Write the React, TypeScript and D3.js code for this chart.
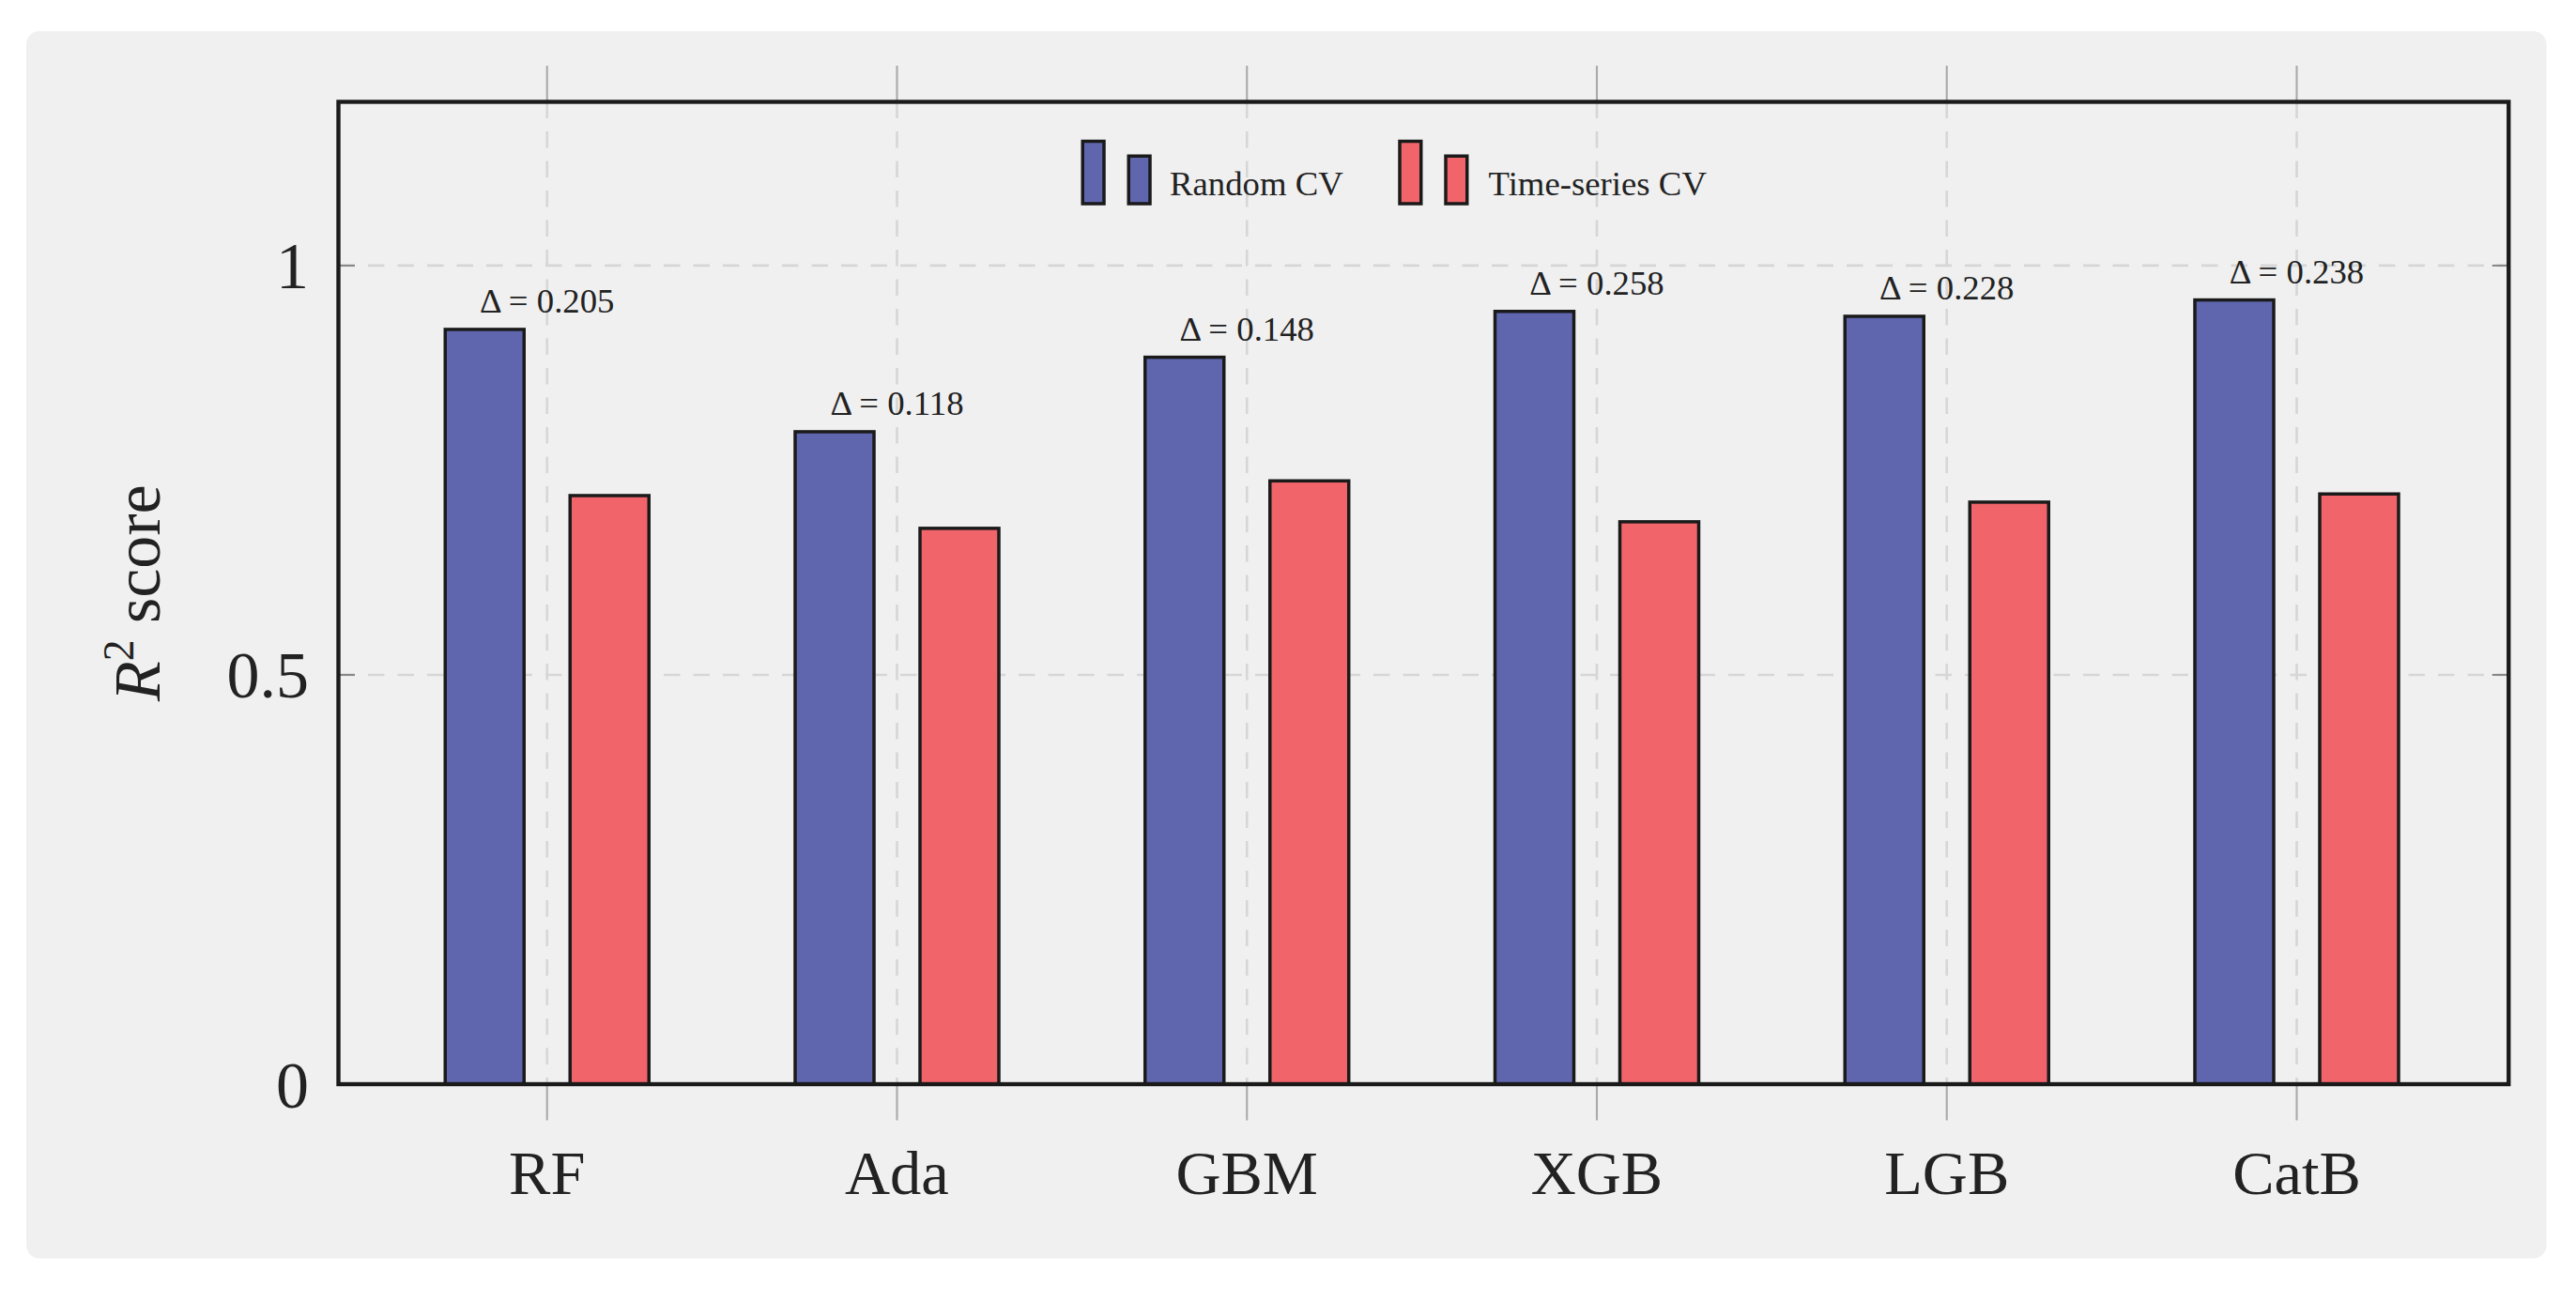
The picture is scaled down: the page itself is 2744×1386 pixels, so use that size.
import React from "react";
import * as d3 from "d3";

const categories = ["RF", "Ada", "GBM", "XGB", "LGB", "CatB"];
const randomCV = [0.922, 0.797, 0.888, 0.944, 0.938, 0.958];
const timeCV = [0.719, 0.679, 0.737, 0.687, 0.711, 0.721];
const deltas = ["0.205", "0.118", "0.148", "0.258", "0.228", "0.238"];
const yTicks = [0, 0.5, 1];
const yTickLabels = ["0", "0.5", "1"];

const BLUE = "#5f66ae";
const RED = "#f0646a";
const FONT = "'Liberation Serif', 'DejaVu Serif', serif";

export default function App() {
  const L = 206, R = 1527, T = 62, B = 660;
  const x = d3.scaleBand<string>().domain(categories).range([L + 20, R + 20]).paddingInner(0).paddingOuter(0.5);
  const cx = (c: string) => (x(c) as number) + x.bandwidth() / 2 - 20 + 20;
  const xs = d3.scalePoint<string>().domain(categories).range([333, 1398]);
  const y = d3.scaleLinear().domain([0, 1.2]).range([B, T]);
  const bw = 48, off = 38;
  return (
    <svg width={2744} height={1386} viewBox="0 0 1568 792" style={{ display: "block", position: "absolute", left: 0, top: 0 }}>
      <rect x={16} y={19} width={1534} height={747} rx={8} fill="#f0f0f0" />
      {yTicks.map((t, i) => (
        <g key={i}>
          {t > 0 && <line x1={L} x2={R} y1={y(t)} y2={y(t)} stroke="#d6d6d6" strokeWidth={1.5} strokeDasharray="10,8" />}
          <line x1={L} x2={L + 10} y1={y(t)} y2={y(t)} stroke="#888" strokeWidth={1.2} />
          <line x1={R - 10} x2={R} y1={y(t)} y2={y(t)} stroke="#888" strokeWidth={1.2} />
          <text x={188} y={y(t)} dy="0.35em" textAnchor="end" fontFamily={FONT} fontSize={40} fill="#222">{yTickLabels[i]}</text>
        </g>
      ))}
      {categories.map((c) => (
        <g key={c}>
          <line x1={xs(c)} x2={xs(c)} y1={T} y2={B} stroke="#d6d6d6" strokeWidth={1.5} strokeDasharray="10,8" />
          <line x1={xs(c)} x2={xs(c)} y1={40} y2={T} stroke="#aaa" strokeWidth={1.2} />
          <line x1={xs(c)} x2={xs(c)} y1={B} y2={682} stroke="#aaa" strokeWidth={1.2} />
        </g>
      ))}
      {categories.map((c, i) => {
        const g = xs(c) as number;
        return (
          <g key={c}>
            <rect x={g - off - bw / 2} y={y(randomCV[i])} width={bw} height={B - y(randomCV[i])} fill={BLUE} stroke="#1a1a1a" strokeWidth={2} />
            <rect x={g + off - bw / 2} y={y(timeCV[i])} width={bw} height={B - y(timeCV[i])} fill={RED} stroke="#1a1a1a" strokeWidth={2} />
            <text x={g} y={y(randomCV[i]) - 10} textAnchor="middle" fontFamily={FONT} fontSize={21} fill="#222">Δ = {deltas[i]}</text>
            <text x={g} y={727} textAnchor="middle" fontFamily={FONT} fontSize={38} fill="#222">{c}</text>
          </g>
        );
      })}
      <rect x={L} y={T} width={R - L} height={B - T} fill="none" stroke="#1a1a1a" strokeWidth={2.5} />
      <g fontFamily={FONT} fontSize={21} fill="#222">
        <rect x={659} y={86} width={13} height={38} fill={BLUE} stroke="#1a1a1a" strokeWidth={2} />
        <rect x={687} y={95} width={13} height={29} fill={BLUE} stroke="#1a1a1a" strokeWidth={2} />
        <text x={712} y={119}>Random CV</text>
        <rect x={852} y={86} width={13} height={38} fill={RED} stroke="#1a1a1a" strokeWidth={2} />
        <rect x={880} y={95} width={13} height={29} fill={RED} stroke="#1a1a1a" strokeWidth={2} />
        <text x={906} y={119}>Time-series CV</text>
      </g>
      <text transform="translate(97,361) rotate(-90)" textAnchor="middle" fontFamily={FONT} fontSize={40} fill="#222">
        <tspan fontStyle="italic">R</tspan><tspan dy={-16} fontSize={26}>2</tspan><tspan dy={16}> score</tspan>
      </text>
    </svg>
  );
}
